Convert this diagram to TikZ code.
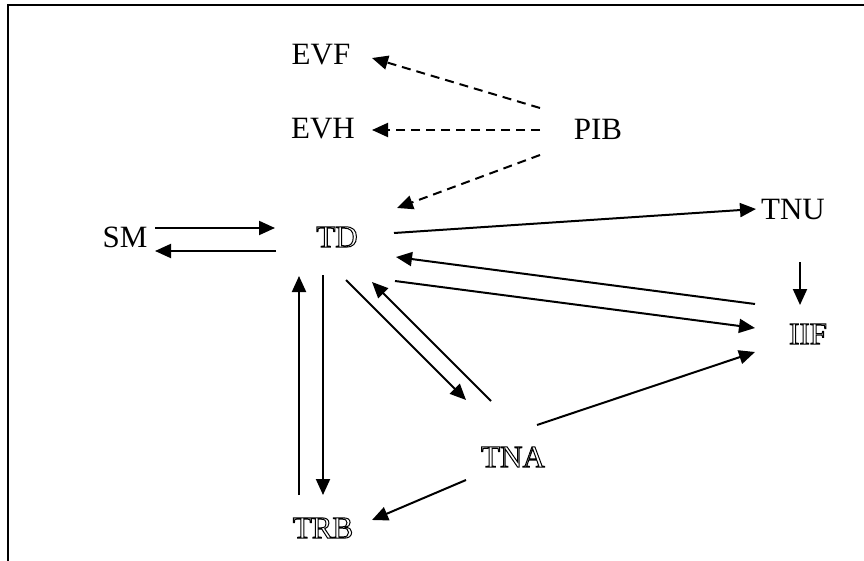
\documentclass[tikz,border=0pt]{standalone}
\usepackage{fontspec}
\setmainfont{Liberation Serif}
\usetikzlibrary{arrows.meta,calc}
\newcommand{\outlinetext}[1]{\special{pdf:literal direct 1 Tr 1.0 w}#1\special{pdf:literal direct 0 Tr}}
\tikzset{
  lbl/.style={font=\fontsize{31}{33}\selectfont, inner sep=0pt},
  arr/.style={line width=2pt, -{Triangle[length=16pt,width=14pt]}},
  darr/.style={arr, dash pattern=on 9pt off 6pt},
  frameline/.style={line width=2.2pt}
}
\begin{document}
\begin{tikzpicture}[x=1pt,y=-1pt]
\useasboundingbox (0,0) rectangle (864,561);
\coordinate (fa) at (8,561);
\coordinate (fb) at (8,5);
\coordinate (fc) at (864,5);
\draw[frameline] (fa) -- (fb) -- (fc);

\node[lbl] (EVF) at (321,55) {EVF};
\node[lbl] (EVH) at (323,129) {EVH};
\node[lbl] (PIB) at (598,129) {PIB};
\node[lbl] (SM)  at (125,237) {SM};
\node[lbl] (TD)  at (337,237) {\outlinetext{TD}};
\node[lbl] (TNU) at (793,210) {TNU};
\node[lbl] (IIF) at (808,334) {\outlinetext{IIF}};
\node[lbl] (TNA) at (513,457) {\outlinetext{TNA}};
\node[lbl] (TRB) at (323,528) {\outlinetext{TRB}};

% dashed from PIB
\draw[darr] ($(PIB)+(-58,-21)$) -- ($(EVF)+(51,3)$);
\draw[darr] ($(PIB)+(-58,1)$) -- ($(EVH)+(49,1)$);
\draw[darr] ($(PIB)+(-58,26)$) -- ($(TD)+(60,-29)$);

% SM <-> TD
\draw[arr] ($(SM)+(30,-9)$) -- ($(TD)+(-62,-9)$);
\draw[arr] ($(TD)+(-61,14)$) -- ($(SM)+(30,14)$);

% TD -> TNU, TNU -> IIF
\draw[arr] ($(TD)+(57,-4)$) -- ($(TNU)+(-37,-1)$);
\draw[arr] ($(TNU)+(7,52)$) -- ($(TNU)+(7,95)$);

% TD <-> IIF
\draw[arr] ($(IIF)+(-53,-30)$) -- ($(TD)+(59,20)$);
\draw[arr] ($(TD)+(58,44)$) -- ($(IIF)+(-53,-6)$);

% TD <-> TNA
\draw[arr] ($(TD)+(9,43)$) -- ($(TNA)+(-47,-57)$);
\draw[arr] ($(TNA)+(-22,-56)$) -- ($(TD)+(35,45)$);

% TNA -> IIF
\draw[arr] ($(TNA)+(24,-32)$) -- ($(IIF)+(-53,18)$);

% TNA -> TRB
\draw[arr] ($(TNA)+(-47,23)$) -- ($(TRB)+(49,-8)$);

% TD <-> TRB
\draw[arr] ($(TD)+(-14,38)$) -- ($(TRB)+(0,-33)$);
\draw[arr] ($(TRB)+(-24,-33)$) -- ($(TD)+(-38,39)$);
\end{tikzpicture}
\end{document}
